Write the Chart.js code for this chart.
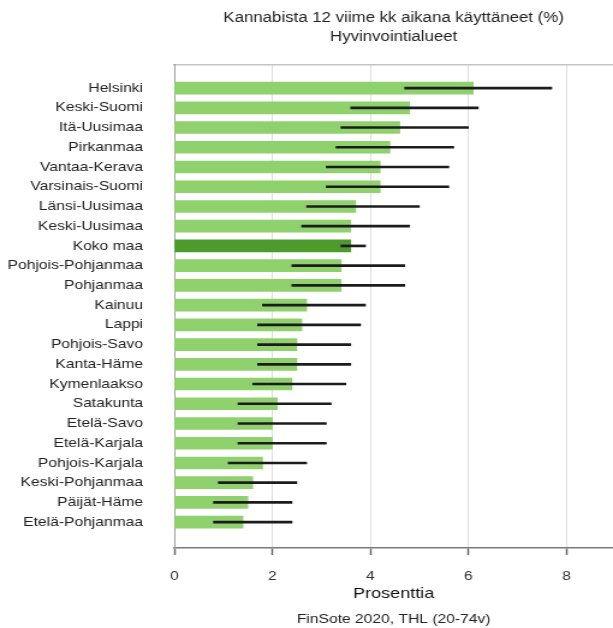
<!DOCTYPE html>
<html>
<head>
<meta charset="utf-8">
<script src="https://cdn.jsdelivr.net/npm/chart.js@4.4.0/dist/chart.umd.min.js"></script>
<style>
  html, body { margin: 0; padding: 0; background: #fff; }
</style>
</head>
<body>
<!-- drawn at 510 px wide, shown at 613: the reference is stretched sideways -->
<canvas id="chart" width="510" height="628" style="display:block;width:613px;height:628px"></canvas>
<script>
// areas, top to bottom
var areas = [
	'Helsinki', 'Keski-Suomi', 'Itä-Uusimaa', 'Pirkanmaa', 'Vantaa-Kerava',
	'Varsinais-Suomi', 'Länsi-Uusimaa', 'Keski-Uusimaa', 'Koko maa',
	'Pohjois-Pohjanmaa', 'Pohjanmaa', 'Kainuu', 'Lappi', 'Pohjois-Savo',
	'Kanta-Häme', 'Kymenlaakso', 'Satakunta', 'Etelä-Savo', 'Etelä-Karjala',
	'Pohjois-Karjala', 'Keski-Pohjanmaa', 'Päijät-Häme', 'Etelä-Pohjanmaa'
]
var percent = [6.1, 4.8, 4.6, 4.4, 4.2, 4.2, 3.7, 3.6, 3.6, 3.4, 3.4, 2.7, 2.6, 2.5, 2.5, 2.4, 2.1, 2.0, 2.0, 1.8, 1.6, 1.5, 1.4]
var lower   = [4.7, 3.6, 3.4, 3.3, 3.1, 3.1, 2.7, 2.6, 3.4, 2.4, 2.4, 1.8, 1.7, 1.7, 1.7, 1.6, 1.3, 1.3, 1.3, 1.1, 0.9, 0.8, 0.8]
var upper   = [7.7, 6.2, 6.0, 5.7, 5.6, 5.6, 5.0, 4.8, 3.9, 4.7, 4.7, 3.9, 3.8, 3.6, 3.6, 3.5, 3.2, 3.1, 3.1, 2.7, 2.5, 2.4, 2.4]
var xTicks = [0, 2, 4, 6, 8]

var font = 'Liberation Sans, Arial, sans-serif'

// chart.js pads the chart area for edge labels, we don't want that here
function noPadding(scale) {
	scale.paddingTop = 0
	scale.paddingBottom = 0
	scale.paddingLeft = 0
	scale.paddingRight = 0
}

var config = {
	type: 'bar',
	data: {
		datasets: [{
			label: 'luottamusväli',
			data: lower.map(function (lo, i) { return { x: [lo, upper[i]], y: i } }),
			backgroundColor: '#1c1c1c',
			barThickness: 2,
			order: 0
		}, {
			label: 'Prosenttia',
			data: percent.map(function (v, i) { return { x: v, y: i } }),
			backgroundColor: areas.map(function (a) { return a === 'Koko maa' ? '#4e9a2d' : '#8fd16d' }),
			barThickness: 12,
			order: 1
		}]
	},
	options: {
		indexAxis: 'y',
		responsive: false,
		devicePixelRatio: 1,
		animation: false,
		datasets: { bar: { grouped: false } },
		layout: { padding: 0 },
		plugins: {
			legend: { display: false },
			tooltip: { enabled: false },
			title: {
				display: true,
				fullSize: false,
				text: ['Kannabista 12 viime kk aikana käyttäneet (%)', 'Hyvinvointialueet'],
				color: '#222',
				font: { family: font, size: 14, weight: 'normal', lineHeight: 1.357 },
				padding: { top: 9, bottom: 18 }
			},
			subtitle: {
				display: true,
				fullSize: false,
				position: 'bottom',
				text: 'FinSote 2020, THL (20-74v)',
				color: '#222',
				font: { family: font, size: 13, weight: 'normal', lineHeight: 1.2 },
				padding: { top: 9, bottom: 1 }
			}
		},
		scales: {
			x: {
				type: 'linear',
				position: 'bottom',
				min: 0,
				max: 8.95,
				afterBuildTicks: function (scale) {
					scale.ticks = xTicks.map(function (v) { return { value: v } })
				},
				afterFit: noPadding,
				grid: { color: '#dedede', lineWidth: 1, tickColor: '#666', tickLength: 7, tickWidth: 1.5 },
				border: { display: true, color: '#7a7a7a', width: 1.5 },
				ticks: { color: '#333', padding: 14, font: { family: font, size: 13 } },
				title: {
					display: true,
					text: 'Prosenttia',
					color: '#111',
					font: { family: font, size: 15, lineHeight: 1.2 },
					// negative top: the title sits closer to the tick labels
					padding: { top: -14.2, bottom: 0 }
				}
			},
			x2: {
				type: 'linear',
				position: 'top',
				display: true,
				min: 0,
				max: 8.95,
				afterFit: noPadding,
				grid: { display: false, drawTicks: false },
				border: { display: true, color: '#c4c4c4', width: 1.5 },
				ticks: { display: false }
			},
			y: {
				type: 'linear',
				reverse: true,
				offset: false,
				min: -1.17,
				max: 23.31,
				afterBuildTicks: function (scale) {
					scale.ticks = areas.map(function (a, i) { return { value: i } })
				},
				afterFit: function (scale) {
					noPadding(scale)
					scale.width = 145
				},
				grid: { display: false, offset: false },
				border: { display: true, color: '#9a9a9a', width: 1 },
				ticks: {
					autoSkip: false,
					padding: 18,
					color: '#222',
					font: { family: font, size: 13 },
					callback: function (v) { return areas[v] }
				}
			}
		}
	}
}

window.onload = function () {
	var ctx = document.getElementById('chart').getContext('2d')
	window.myChart = new Chart(ctx, config)
}
</script>
</body>
</html>
